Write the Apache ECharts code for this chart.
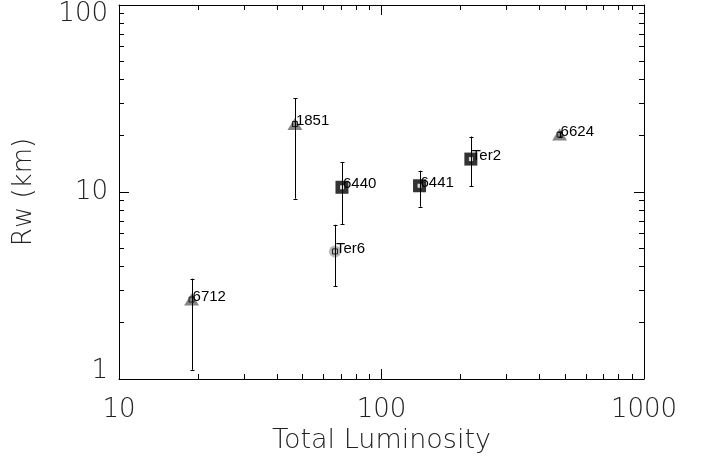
<!DOCTYPE html>
<html><head><meta charset="utf-8">
<script src="https://cdn.jsdelivr.net/npm/echarts@6/dist/echarts.min.js"></script>
<style>html,body{margin:0;padding:0;background:#fff}#c{width:702px;height:463px}</style>
</head><body><div id="c"></div>
<script>
// Wind radius versus total luminosity for a set of globular clusters
const clusters   = ['6712', '1851', 'Ter6', '6440', '6441', 'Ter2', '6624'];
const luminosity = [18.9, 46.8, 66.5, 70.7, 139.6, 219, 477];
const radius     = [2.66, 23.1, 4.81, 10.6, 10.8, 15.0, 20.3];
const radiusLow  = [1.12, 9.2, 3.13, 6.75, 8.34, 10.76, 19.6];
const radiusHigh = [3.44, 31.7, 6.68, 14.4, 13.0, 19.8, 21.0];
const markerKind = ['triangle', 'triangle', 'circle', 'square', 'square', 'square', 'triangle'];

const xMajorTicks = [10, 100, 1000];
const xMinorTicks = [20, 30, 40, 50, 60, 70, 80, 90, 200, 300, 400, 500, 600, 700, 800, 900];
const yMajorTicks = [1, 10, 100];
const yMinorTicks = [2, 3, 4, 5, 6, 7, 8, 9, 20, 30, 40, 50, 60, 70, 80, 90];

const FONT = 'DejaVu Sans';
const INK = '#000';
const TEXT = '#222';

function pointsOf(kind) {
  const out = [];
  markerKind.forEach((k, i) => { if (k === kind) out.push([luminosity[i], radius[i]]); });
  return out;
}

function axisSet(dir, pos, major, minor, withLabels, extra) {
  const base = {
    type: 'log', logBase: 10,
    min: dir === 'x' ? 10 : 1, max: dir === 'x' ? 1000 : 100,
    position: pos, splitLine: { show: false }
  };
  const majorAxis = Object.assign({}, base, {
    axisLine: { show: true, onZero: false, lineStyle: { color: INK, width: 1 } },
    axisTick: { show: true, inside: true, length: 10, customValues: major, lineStyle: { color: INK } },
    axisLabel: withLabels ? withLabels : { show: false }
  }, extra || {});
  const minorAxis = Object.assign({}, base, {
    axisLine: { show: false },
    axisTick: { show: true, inside: true, length: 5, customValues: minor, lineStyle: { color: INK } },
    axisLabel: { show: false }
  });
  return [majorAxis, minorAxis];
}

const xLabels = {
  show: true, customValues: xMajorTicks, margin: 18,
  fontFamily: FONT, fontWeight: 200, fontSize: 26, color: TEXT,
  formatter: v => String(Math.round(v))
};
const yLabels = {
  show: true, customValues: yMajorTicks, margin: 11,
  fontFamily: FONT, fontWeight: 200, fontSize: 26, color: TEXT,
  formatter: v => {
    const r = Math.round(v);
    if (r === 100) return '{lo|100}';
    if (r === 1) return '{hi|1}';
    return String(r);
  },
  rich: {
    lo: { fontFamily: FONT, fontWeight: 200, fontSize: 26, color: TEXT, padding: [18, 0, 0, 0] },
    hi: { fontFamily: FONT, fontWeight: 200, fontSize: 26, color: TEXT, padding: [0, 0, 16, 0] }
  }
};

const xAxes = [
  ...axisSet('x', 'bottom', xMajorTicks, xMinorTicks, xLabels, {
    name: 'Total Luminosity', nameLocation: 'middle', nameGap: 46,
    nameTextStyle: { fontFamily: FONT, fontWeight: 200, fontSize: 27, color: TEXT }
  }),
  ...axisSet('x', 'top', xMajorTicks, xMinorTicks, null)
];
const yAxes = [
  ...axisSet('y', 'left', yMajorTicks, yMinorTicks, yLabels, {
    name: 'Rw (km)', nameLocation: 'middle', nameGap: 82, nameRotate: 90,
    nameTextStyle: { fontFamily: FONT, fontWeight: 200, fontSize: 26, color: TEXT }
  }),
  ...axisSet('y', 'right', yMajorTicks, yMinorTicks, null)
];

const chart = echarts.init(document.getElementById('c'), null, { renderer: 'canvas' });
chart.setOption({
  animation: false,
  backgroundColor: '#fff',
  grid: { left: 119, right: 58, top: 5, bottom: 84 },
  xAxis: xAxes,
  yAxis: yAxes,
  series: [
    {
      type: 'scatter', name: 'triangles', symbol: 'triangle', symbolSize: [15, 12],
      itemStyle: { color: '#666' }, data: pointsOf('triangle'), z: 2
    },
    {
      type: 'scatter', name: 'circles', symbol: 'circle', symbolSize: 12,
      itemStyle: { color: '#a8a8a8' }, data: pointsOf('circle'), z: 2
    },
    {
      type: 'scatter', name: 'squares', symbol: 'rect', symbolSize: 13,
      itemStyle: { color: '#000' }, data: pointsOf('square'), z: 2
    },
    {
      // small white window inside each black square
      type: 'scatter', name: 'square cores', symbol: 'rect', symbolSize: 4,
      itemStyle: { color: '#fff', borderWidth: 0 }, data: pointsOf('square'), z: 3
    },
    {
      // small open square at the other positions, carrying the cluster name
      type: 'scatter', name: 'points', symbol: 'rect', symbolSize: 5,
      itemStyle: { color: 'rgba(255,255,255,0)', borderColor: '#000', borderWidth: 1 },
      data: luminosity.map((x, i) => ({
        value: [x, radius[i]], name: clusters[i],
        itemStyle: markerKind[i] === 'square' ? { opacity: 0 } : undefined
      })),
      label: {
        show: true, position: 'right', distance: -2, offset: [0, -3],
        formatter: p => p.name, opacity: 1,
        fontFamily: 'Liberation Sans', fontSize: 15, color: '#000'
      },
      z: 3
    },
    {
      type: 'custom', name: 'errors', z: 4,
      encode: { x: 0, y: [1, 2] },
      data: luminosity.map((x, i) => [x, radiusLow[i], radiusHigh[i]]),
      renderItem: (params, api) => {
        const x = api.value(0);
        const pLo = api.coord([x, api.value(1)]);
        const pHi = api.coord([x, api.value(2)]);
        const cx = Math.round(pLo[0]) + 0.5;
        const cap = 2;
        const st = { stroke: '#000', lineWidth: 1 };
        return {
          type: 'group', children: [
            { type: 'line', shape: { x1: cx, y1: pLo[1], x2: cx, y2: pHi[1] }, style: st },
            { type: 'line', shape: { x1: cx - cap, y1: Math.round(pLo[1]) + 0.5, x2: cx + cap, y2: Math.round(pLo[1]) + 0.5 }, style: st },
            { type: 'line', shape: { x1: cx - cap, y1: Math.round(pHi[1]) + 0.5, x2: cx + cap, y2: Math.round(pHi[1]) + 0.5 }, style: st }
          ]
        };
      }
    }
  ]
});
</script>
</body></html>
